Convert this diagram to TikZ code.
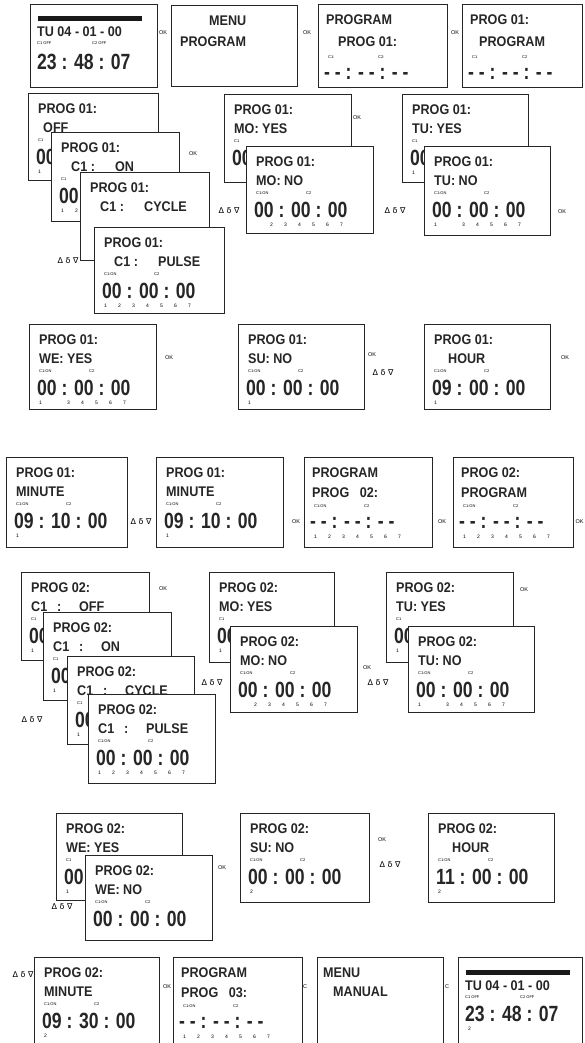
\documentclass[tikz,border=0pt]{standalone}
\usepackage{fontspec}
\setmainfont{Liberation Sans}
\newfontfamily\lcdtext[FakeStretch=0.9]{Liberation Sans}
\newfontfamily\lcdbig[FakeStretch=0.8]{Liberation Sans}
\newfontfamily\symf{DejaVu Sans}
\tikzset{
 scr/.style={draw=black!85, line width=1pt, fill=white, anchor=north west, inner sep=0pt},
 ln/.style={font=\lcdtext\bfseries\fontsize{14}{14}\selectfont, anchor=west, inner sep=0pt, text=black!85},
 bg/.style={font=\lcdbig\bfseries\fontsize{22}{22}\selectfont, anchor=west, inner sep=0pt, text=black!85},
 tn/.style={font=\fontsize{4}{4}\selectfont, anchor=west, inner sep=0pt},
 dg/.style={font=\fontsize{5}{5}\selectfont, anchor=west, inner sep=0pt},
 ok/.style={font=\fontsize{5.5}{6}\selectfont, inner sep=0pt},
 nav/.style={font=\symf\fontsize{8}{8}\selectfont, inner sep=0pt},
 barst/.style={fill=black!90, minimum height=4.5pt, inner sep=0pt, anchor=north west},
}
\newcommand\screenbox[5]{\node[scr, minimum width=#4pt, minimum height=#5pt] (#1) at (#2,-#3) {};}
\newcommand\boxtext[6]{\node[#2] (#1) at ([shift={(#4pt,-#5pt)}]#3.north west) {#6};}
\newcommand\days[7]{\makebox[14pt][l]{#1}\makebox[14pt][l]{#2}\makebox[14pt][l]{#3}\makebox[14pt][l]{#4}\makebox[14pt][l]{#5}\makebox[14pt][l]{#6}\makebox[14pt][l]{#7}}
\newcommand\alldays{\days{1}{2}{3}{4}{5}{6}{7}}
% a screen shown in full
\newcommand\stdscreen[9]{%
 \screenbox{#1}{#2}{#3}{#4}{#5}
 \boxtext{#1a}{ln}{#1}{10}{16}{#6}
 \boxtext{#1b}{ln}{#1}{10}{35}{#7}
 \boxtext{#1t}{tn}{#1}{10}{47}{\makebox[50pt][l]{C1:ON}C2}
 \boxtext{#1c}{bg}{#1}{8}{64}{#8}
 \boxtext{#1d}{dg}{#1}{10}{79}{#9}}
% a screen partly covered by the next one: only its visible texts
\newcommand\lowscreen[9]{%
 \screenbox{#1}{#2}{#3}{#4}{#5}
 \boxtext{#1a}{ln}{#1}{10}{16}{#6}
 \boxtext{#1b}{ln}{#1}{10}{35}{#7}
 \boxtext{#1t}{tn}{#1}{10}{47}{C1}
 \boxtext{#1c}{bg}{#1}{8}{64}{#8}
 \boxtext{#1d}{dg}{#1}{10}{79}{#9}}
\newcommand\dashscreen[7]{%
 \screenbox{#1}{#2}{#3}{#4}{#5}
 \boxtext{#1a}{ln}{#1}{8}{16}{#6}
 \boxtext{#1b}{ln}{#1}{8}{36}{#7}
 \boxtext{#1t}{tn}{#1}{10}{49}{\makebox[50pt][l]{C1:ON}C2}
 \boxtext{#1c}{bg}{#1}{6}{66}{- - : - - : - -}
 \boxtext{#1d}{dg}{#1}{10}{80}{\alldays}}
\begin{document}
\begin{tikzpicture}[x=1pt,y=1pt]
\useasboundingbox[fill=white] (0,0) rectangle (584,-1043);
% ---------- row 1
\screenbox{A}{30}{4}{127}{83}
\node[barst, minimum width=104pt] (Abar) at ([shift={(8pt,-12pt)}]A.north west) {};
\boxtext{Aa}{ln}{A}{7}{28}{TU 04 - 01 - 00}
\boxtext{At}{tn}{A}{7}{39}{\makebox[55pt][l]{C1 OFF}C2 OFF}
\boxtext{Ab}{bg}{A}{7}{58}{23 : 48 : 07}
\node[ok] (ok1) at (163,-33) {OK};
\screenbox{B}{171}{5}{126}{81}
\boxtext{Ba}{ln}{B}{38}{16}{MENU}
\boxtext{Bb}{ln}{B}{9}{37}{PROGRAM}
\node[ok] (ok2) at (307,-33) {OK};
\screenbox{C}{318}{4}{129}{83}
\boxtext{Ca}{ln}{C}{8}{16}{PROGRAM}
\boxtext{Cb}{ln}{C}{20}{38}{PROG 01:}
\boxtext{Ct}{tn}{C}{10}{53}{\makebox[50pt][l]{C1:}C2:}
\boxtext{Cc}{bg}{C}{6}{70}{- - : - - : - -}
\node[ok] (ok3) at (455,-33) {OK};
\screenbox{D}{462}{4}{120}{83}
\boxtext{Da}{ln}{D}{8}{16}{PROG 01:}
\boxtext{Db}{ln}{D}{17}{38}{PROGRAM}
\boxtext{Dt}{tn}{D}{10}{53}{\makebox[50pt][l]{C1}C2}
\boxtext{Dc}{bg}{D}{6}{70}{- - : - - : - -}
% ---------- row 2
\lowscreen{Ea}{28}{93}{130}{87}{PROG 01:}{\hspace*{5pt}OFF}{00}{1}
\lowscreen{Eb}{51}{132}{128}{89}{PROG 01:}{\hspace*{10pt}\makebox[44pt][l]{C1 :}ON}{00}{\days{1}{2}{}{}{}{}{}}
\screenbox{Ec}{80}{172}{129}{88}
\boxtext{Eca}{ln}{Ec}{10}{16}{PROG 01:}
\boxtext{Ecb}{ln}{Ec}{10}{35}{\hspace*{10pt}\makebox[44pt][l]{C1 :}CYCLE}
\stdscreen{Ed}{94}{227}{130}{86}{PROG 01:}{\hspace*{10pt}\makebox[44pt][l]{C1 :}PULSE}{00 : 00 : 00}{\alldays}
\node[ok] (ok4) at (193,-154) {OK};
\node[nav, anchor=east] (nav1) at (Ec.south west) {Δ δ ∇\,};
\lowscreen{Fa}{224}{94}{127}{88}{PROG 01:}{MO: YES}{00}{}
\stdscreen{Fb}{246}{146}{127}{87}{PROG 01:}{MO: NO}{00 : 00 : 00}{\days{}{2}{3}{4}{5}{6}{7}}
\node[ok] (ok5) at (357,-118) {OK};
\node[nav] (nav2) at (229,-211) {Δ δ ∇};
\lowscreen{Ga}{402}{94}{126}{88}{PROG 01:}{TU: YES}{00}{1}
\stdscreen{Gb}{424}{146}{126}{89}{PROG 01:}{TU: NO}{00 : 00 : 00}{\days{1}{}{3}{4}{5}{6}{7}}
\node[nav] (nav3) at (395,-211) {Δ δ ∇};
\node[ok] (ok6) at (562,-212) {OK};
% ---------- row 3
\stdscreen{H}{29}{324}{127}{85}{PROG 01:}{WE: YES}{00 : 00 : 00}{\days{1}{}{3}{4}{5}{6}{7}}
\node[ok] (ok7) at (169,-358) {OK};
\stdscreen{I}{238}{324}{126}{85}{PROG 01:}{SU: NO}{00 : 00 : 00}{1}
\node[ok] (ok8) at (372,-355) {OK};
\node[nav] (nav4) at (383,-373) {Δ δ ∇};
\stdscreen{J}{424}{324}{126}{85}{PROG 01:}{\hspace*{14pt}HOUR}{09 : 00 : 00}{1}
\node[ok] (ok9) at (565,-358) {OK};
% ---------- row 4
\stdscreen{K}{6}{457}{121}{90}{PROG 01:}{MINUTE}{09 : 10 : 00}{1}
\node[nav] (nav5) at (141,-522) {Δ δ ∇};
\stdscreen{L}{156}{457}{127}{90}{PROG 01:}{MINUTE}{09 : 10 : 00}{1}
\node[ok] (ok10) at (296,-522) {OK};
\dashscreen{M}{304}{457}{128}{90}{PROGRAM}{PROG\,\,\, 02:}
\node[ok] (ok11) at (442,-522) {OK};
\dashscreen{N}{453}{457}{120}{90}{PROG 02:}{PROGRAM}
\node[ok, anchor=west] (ok12) at (575.5,-522) {OK};
% ---------- row 5
\lowscreen{Pa}{21}{572}{128}{88}{PROG 02:}{\makebox[26pt][l]{C1}\makebox[22pt][l]{:}OFF}{00}{1}
\lowscreen{Pb}{43}{612}{128}{88}{PROG 02:}{\makebox[26pt][l]{C1}\makebox[22pt][l]{:}ON}{00}{1}
\lowscreen{Pc}{67}{656}{127}{88}{PROG 02:}{\makebox[26pt][l]{C1}\makebox[22pt][l]{:}CYCLE}{00}{1}
\stdscreen{Pd}{88}{694}{127}{89}{PROG 02:}{\makebox[26pt][l]{C1}\makebox[22pt][l]{:}PULSE}{00 : 00 : 00}{\alldays}
\node[ok] (ok13) at (163,-589) {OK};
\node[nav] (nav6) at (32,-720) {Δ δ ∇};
\lowscreen{Qa}{209}{572}{125}{90}{PROG 02:}{MO: YES}{00}{1}
\stdscreen{Qb}{230}{626}{127}{86}{PROG 02:}{MO: NO}{00 : 00 : 00}{\days{}{2}{3}{4}{5}{6}{7}}
\node[nav] (nav7) at (212,-683) {Δ δ ∇};
\node[ok] (ok14) at (367,-668) {OK};
\node[nav] (nav8) at (378,-683) {Δ δ ∇};
\lowscreen{Ra}{386}{572}{127}{90}{PROG 02:}{TU: YES}{00}{1}
\stdscreen{Rb}{408}{626}{126}{86}{PROG 02:}{TU: NO}{00 : 00 : 00}{\days{1}{}{3}{4}{5}{6}{7}}
\node[ok] (ok15) at (524,-590) {OK};
% ---------- row 6
\lowscreen{Sa}{56}{813}{126}{87}{PROG 02:}{WE: YES}{00}{1}
\screenbox{Sb}{85}{855}{127}{85}
\boxtext{Sba}{ln}{Sb}{10}{16}{PROG 02:}
\boxtext{Sbb}{ln}{Sb}{10}{35}{WE: NO}
\boxtext{Sbt}{tn}{Sb}{10}{47}{\makebox[50pt][l]{C1:ON}C2}
\boxtext{Sbc}{bg}{Sb}{8}{64}{00 : 00 : 00}
\node[ok] (ok16) at (222,-868) {OK};
\node[nav] (nav9) at (62,-907) {Δ δ ∇};
\stdscreen{T}{240}{813}{129}{89}{PROG 02:}{SU: NO}{00 : 00 : 00}{2}
\node[ok] (ok17) at (382,-840) {OK};
\node[nav] (nav10) at (390,-865) {Δ δ ∇};
\stdscreen{U}{428}{813}{126}{89}{PROG 02:}{\hspace*{14pt}HOUR}{11 : 00 : 00}{2}
% ---------- row 7
\node[nav] (nav11) at (23,-975) {Δ δ ∇};
\stdscreen{V}{34}{957}{125}{93}{PROG 02:}{MINUTE}{09 : 30 : 00}{2}
\node[ok] (ok18) at (167,-987) {OK};
\dashscreen{W}{173}{957}{129}{93}{PROGRAM}{PROG\,\,\, 03:}
\node[ok] (c1) at (305,-987) {C};
\screenbox{X}{317}{957}{126}{93}
\boxtext{Xa}{ln}{X}{6}{16}{MENU}
\boxtext{Xb}{ln}{X}{16}{35}{MANUAL}
\node[ok] (c2) at (447,-987) {C};
\screenbox{Y}{458}{957}{124}{93}
\node[barst, minimum width=104pt] (Ybar) at ([shift={(8pt,-13pt)}]Y.north west) {};
\boxtext{Ya}{ln}{Y}{7}{29}{TU 04 - 01 - 00}
\boxtext{Yt}{tn}{Y}{7}{40}{\makebox[55pt][l]{C1 OFF}C2 OFF}
\boxtext{Yb}{bg}{Y}{7}{57}{23 : 48 : 07}
\boxtext{Yd}{dg}{Y}{10}{72}{2}
\end{tikzpicture}
\end{document}
